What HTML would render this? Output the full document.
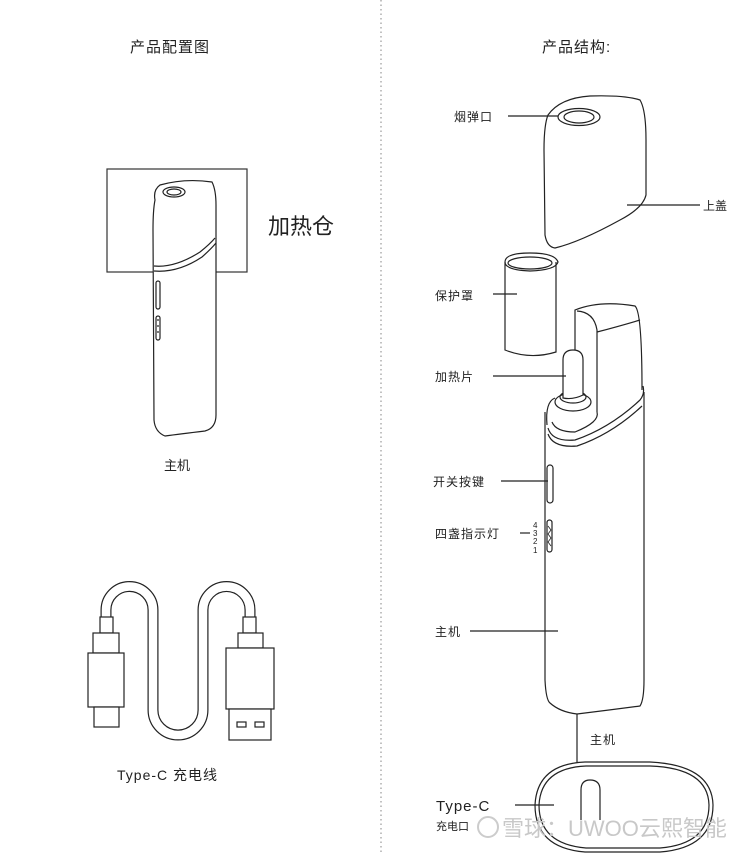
<!DOCTYPE html>
<html><head><meta charset="utf-8"><style>
html,body{margin:0;padding:0;background:#fff;}
svg{display:block;}
text{font-family:"Liberation Sans","Noto Sans CJK SC",sans-serif;fill:#222;}
</style></head><body>
<svg width="743" height="853" viewBox="0 0 743 853" xmlns="http://www.w3.org/2000/svg">
<g fill="none" stroke="#222" stroke-width="1.2">
<line x1="381" y1="0" x2="381" y2="853" stroke="#999" stroke-dasharray="1.5,3"/>

<rect x="107" y="169" width="140" height="103" stroke="#333"/>
<path d="M155,200 Q153,190 160,185 Q185,178 212,182 Q216,190 216,205 L216,415 Q216,428 205,431 Q180,434 165,436 Q155,432 154,420 L153,230 Q153,210 155,200 Z" fill="#fff"/>
<ellipse cx="174" cy="192" rx="11" ry="5"/>
<ellipse cx="174" cy="192" rx="7" ry="3"/>
<path d="M154,266 Q175,268 200,252 Q210,244 215,238"/>
<path d="M154,271 Q178,273 202,257 Q211,249 216,243"/>
<rect x="156" y="281" width="4" height="28" rx="2"/>
<rect x="156" y="316" width="4" height="24" rx="2"/>
<line x1="157" y1="320" x2="159" y2="320"/><line x1="157" y1="326" x2="159" y2="326"/><line x1="157" y1="332" x2="159" y2="332"/>

<path d="M106,620 V610 A23.5,23.5 0 0 1 153,610 V710 A25,25 0 0 0 203,710 V610 A23.5,23.5 0 0 1 250,610 V620" stroke-width="11"/>
<path d="M106,620 V610 A23.5,23.5 0 0 1 153,610 V710 A25,25 0 0 0 203,710 V610 A23.5,23.5 0 0 1 250,610 V620" stroke="#fff" stroke-width="8.6"/>
<rect x="100" y="617" width="13" height="16" fill="#fff"/>
<rect x="93" y="633" width="26" height="20" fill="#fff"/>
<rect x="88" y="653" width="36" height="54" fill="#fff"/>
<rect x="94" y="707" width="25" height="20" fill="#fff"/>
<rect x="243" y="617" width="13" height="16" fill="#fff"/>
<rect x="238" y="633" width="25" height="15" fill="#fff"/>
<rect x="226" y="648" width="48" height="61" fill="#fff"/>
<rect x="229" y="709" width="42" height="31" fill="#fff"/>
<rect x="237" y="722" width="9" height="5"/>
<rect x="255" y="722" width="9" height="5"/>

<path d="M548,115 Q560,98 590,96 Q625,95 640,100 Q646,110 646,140 L646,195 Q643,208 620,220 Q580,242 555,248 Q547,247 545,235 L544,150 Q544,125 548,115 Z" fill="#fff"/>
<ellipse cx="579" cy="117" rx="21" ry="8.5"/>
<ellipse cx="579" cy="117" rx="15" ry="6"/>
<line x1="508" y1="116" x2="558" y2="116"/>
<line x1="627" y1="205" x2="700" y2="205"/>

<path d="M505,262 L505,350 Q530,360 556,352 L556,262"/>
<path d="M505,262 Q505,253 530,253 Q555,253 558,262 Q556,270 530,271 Q505,270 505,262 Z"/>
<ellipse cx="530" cy="263" rx="22" ry="6"/>
<line x1="493" y1="294" x2="517" y2="294"/>

<path d="M545,412 L545,680 Q546,700 550,703 Q560,712 577,714 Q610,710 640,706 Q644,700 644,680 L644,392"/>
<path d="M575,400 L575,310 Q600,300 635,306 Q642,312 642,390"/>
<path d="M577,311 Q594,312 597,330 L597,412"/>
<path d="M597,332 Q620,326 640,320"/>
<ellipse cx="573" cy="402" rx="18" ry="9" fill="#fff"/>
<ellipse cx="573" cy="397" rx="13" ry="6"/>
<path d="M563,398 L563,360 Q563,350 573,350 Q583,350 583,360 L583,395 Q573,400 563,398 Z" fill="#fff"/>
<line x1="493" y1="376" x2="566" y2="376"/>
<path d="M547,425 Q545,402 555,398"/>
<path d="M548,428 Q552,442 575,440 Q610,428 640,400 Q645,394 643,386"/>
<path d="M548,434 Q553,448 577,446 Q612,434 642,406"/>
<path d="M552,422 Q556,432 575,432 Q600,422 597,412"/>
<rect x="547" y="465" width="6" height="38" rx="3"/>
<rect x="547" y="520" width="5" height="32" rx="2.5"/>
<path d="M548,526 L551,530 L548,534 L551,538 L548,542 L551,546" stroke-width="0.8"/>
<line x1="501" y1="481" x2="548" y2="481"/>
<line x1="520" y1="533" x2="530" y2="533"/>
<line x1="470" y1="631" x2="558" y2="631"/>
<line x1="577" y1="714" x2="577" y2="762"/>

<path d="M585,762 L650,762 Q712,765 713,805 Q713,848 660,852 L585,852 Q535,848 535,805 Q537,764 585,762 Z"/>
<path d="M586,766 L650,766 Q708,768 709,805 Q709,844 660,848 L586,848 Q539,844 539,805 Q541,768 586,766 Z"/>
<path d="M581,820 L581,790 Q581,780 590,780 Q600,780 600,790 L600,820"/>
<line x1="515" y1="805" x2="554" y2="805"/>
</g>

<text x="130" y="52" font-size="15" letter-spacing="1">产品配置图</text>
<text x="542" y="52" font-size="15" letter-spacing="1">产品结构:</text>
<text x="268" y="234" font-size="22" fill="#111">加热仓</text>
<text x="164" y="470" font-size="13">主机</text>
<text x="117" y="780" font-size="14" letter-spacing="1">Type-C 充电线</text>
<text x="454" y="121" font-size="12" letter-spacing="1">烟弹口</text>
<text x="703" y="210" font-size="12">上盖</text>
<text x="435" y="300" font-size="12" letter-spacing="1">保护罩</text>
<text x="435" y="381" font-size="12" letter-spacing="1">加热片</text>
<text x="433" y="486" font-size="12" letter-spacing="1">开关按键</text>
<text x="435" y="538" font-size="12" letter-spacing="1">四盏指示灯</text>
<text x="533" y="528" font-size="8">4</text>
<text x="533" y="536" font-size="8">3</text>
<text x="533" y="544" font-size="8">2</text>
<text x="533" y="553" font-size="8">1</text>
<text x="435" y="636" font-size="12" letter-spacing="1">主机</text>
<text x="590" y="744" font-size="12" letter-spacing="1">主机</text>
<text x="436" y="811" font-size="15" letter-spacing="1">Type-C</text>
<text x="436" y="830" font-size="11">充电口</text>
<circle cx="488" cy="827" r="10" fill="none" stroke="#ccc" stroke-width="2"/>
<text x="502" y="836" font-size="22" style="fill:#c8c8c8">雪球：UWOO云熙智能</text>
</svg>
</body></html>
